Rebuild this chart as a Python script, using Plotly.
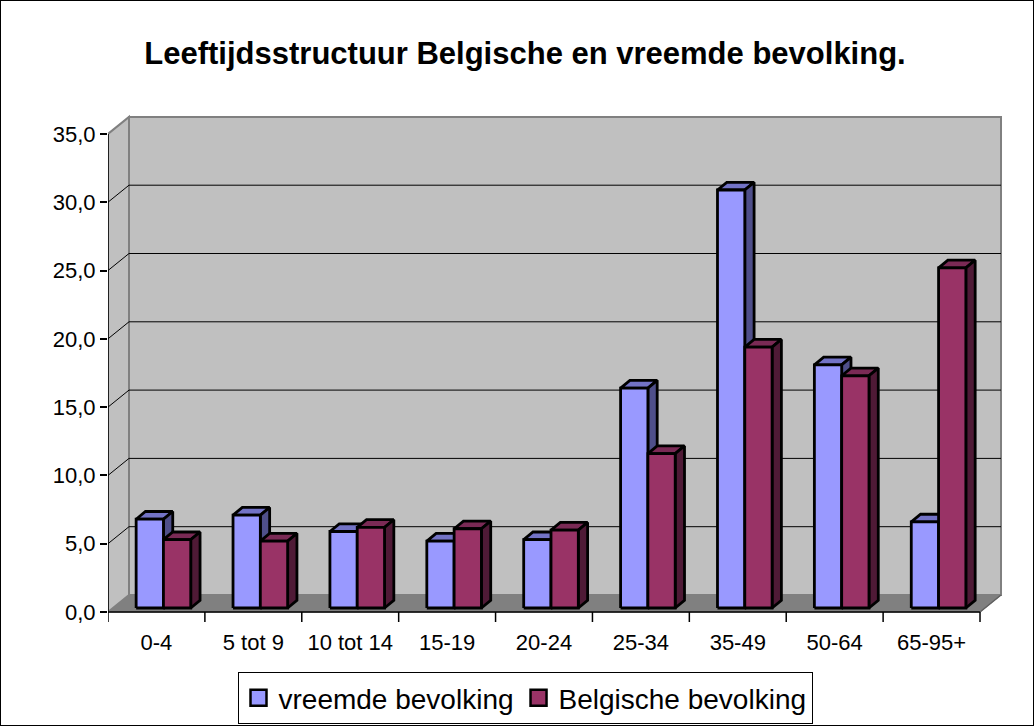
import plotly.graph_objects as go

# ---------------- data ----------------
categories = ["0-4", "5 tot 9", "10 tot 14", "15-19", "20-24", "25-34", "35-49", "50-64", "65-95+"]
vreemde = [6.5, 6.8, 5.6, 4.9, 5.0, 16.1, 30.6, 17.8, 6.3]
belgische = [5.0, 4.9, 5.9, 5.8, 5.7, 11.3, 19.1, 17.0, 24.9]
series_names = ["vreemde bevolking", "Belgische bevolking"]
y_ticks = [0, 5, 10, 15, 20, 25, 30, 35]

# ---------------- styles ----------------
FRONT = ["#9999FF", "#993366"]
TOP = ["#7373C6", "#7A2A55"]
SIDE = ["#4F4F8A", "#4F1A36"]
FONT = "Liberation Sans, Arial, sans-serif"

# ---------------- geometry (pixels -> axis units) ----------------
W, H = 1034, 726
L, R, T, B = 108, 1004, 110, 622
Y0PIX = 612
PX_X = 96.89
PX_Y = 13.66
n = len(categories)
x_range = [0, (R - L) / PX_X]
y_range = [-(B - Y0PIX) / PX_Y, (Y0PIX - T) / PX_Y]
DX, DY = 21 / PX_X, 17 / PX_Y          # wall depth offset
YMAX = y_ticks[-1]
BW = 27.3 / PX_X                        # bar width
BX, BY = 7 / PX_X, 4 / PX_Y             # bar front-plane offset
DDX, DDY = 9.3 / PX_X, 7.7 / PX_Y       # bar depth

shapes = []


def poly(pts, fill, line, width=1, layer="below"):
    d = "M " + " L ".join(f"{x},{y}" for x, y in pts) + " Z"
    shapes.append(dict(type="path", path=d, xref="x", yref="y", fillcolor=fill,
                       line=dict(color=line, width=width), layer=layer))


def seg(x0, y0, x1, y1, color, width=1, layer="below"):
    shapes.append(dict(type="line", x0=x0, y0=y0, x1=x1, y1=y1, xref="x", yref="y",
                       line=dict(color=color, width=width), layer=layer))


# floor
poly([(0, 0), (n, 0), (n + DX, DY), (DX, DY)], "#808080", "#808080")
# left wall
poly([(0, 0), (DX, DY), (DX, DY + YMAX), (0, YMAX)], "#C0C0C0", "#808080", 2)
# back wall
poly([(DX, DY), (n + DX, DY), (n + DX, DY + YMAX), (DX, DY + YMAX)], "#C0C0C0", "#808080", 2)
# gridlines
for v in y_ticks[1:-1]:
    seg(DX, DY + v, n + DX, DY + v, "#000000", 1)
    seg(0, v, DX, DY + v, "#000000", 1)
# axes
seg(0, 0, 0, YMAX, "#000000", 1.5)
seg(0, 0, n, 0, "#000000", 1.5)
seg(n, 0, n + DX, DY, "#606060", 1.5)
for i in range(n + 1):
    seg(i, 0, i, y_range[0], "#000000", 1.5)

# whole-chart frame
shapes.append(dict(type="rect", xref="paper", yref="paper",
                   x0=-L / (R - L), x1=1 + (W - R) / (R - L),
                   y0=-(H - B) / (B - T), y1=1 + T / (B - T),
                   line=dict(color="#000000", width=2), fillcolor="rgba(0,0,0,0)", layer="above"))

fig = go.Figure()

# bars as 3D prisms
for s, vals in enumerate([vreemde, belgische]):
    tops_x, tops_y, sides_x, sides_y, fr_x, fr_y = [], [], [], [], [], []
    for i, v in enumerate(vals):
        c = i + 0.5 + BX
        xl = c - BW if s == 0 else c
        xr = c if s == 0 else c + BW
        y0, y1 = BY, BY + v
        tops_x += [xl, xr, xr + DDX, xl + DDX, xl, None]
        tops_y += [y1, y1, y1 + DDY, y1 + DDY, y1, None]
        sides_x += [xr, xr + DDX, xr + DDX, xr, xr, None]
        sides_y += [y0, y0 + DDY, y1 + DDY, y1, y0, None]
        fr_x += [xl, xr, xr, xl, xl, None]
        fr_y += [y0, y0, y1, y1, y0, None]
    for xs, ys, col in [(tops_x, tops_y, TOP[s]), (sides_x, sides_y, SIDE[s]), (fr_x, fr_y, FRONT[s])]:
        fig.add_trace(go.Scatter(x=xs, y=ys, mode="lines", fill="toself", fillcolor=col,
                                 line=dict(color="#000000", width=2.8), showlegend=False,
                                 hoverinfo="skip"))

# legend entries
for s, name in enumerate(series_names):
    fig.add_trace(go.Scatter(x=[None], y=[None], mode="markers", name=name,
                             marker=dict(symbol="square", size=18, color=FRONT[s],
                                         line=dict(color="#000000", width=2.5))))

fig.update_layout(
    width=W, height=H,
    margin=dict(l=L, r=W - R, t=T, b=H - B, pad=0, autoexpand=False),
    paper_bgcolor="#FFFFFF", plot_bgcolor="rgba(0,0,0,0)",
    title=dict(text="Leeftijdsstructuur Belgische en vreemde bevolking.",
               font=dict(family=FONT, size=31, color="#000000", weight="bold"),
               x=525 / W, xanchor="center", xref="container",
               y=1 - 53 / H, yanchor="middle", yref="container"),
    xaxis=dict(range=x_range, showgrid=False, zeroline=False, showline=False,
               tickvals=[i + 0.5 for i in range(n)], ticktext=categories,
               ticks="outside", ticklen=1, tickcolor="rgba(0,0,0,0)",
               tickfont=dict(family=FONT, size=22, color="#000000"), fixedrange=True),
    yaxis=dict(range=y_range, showgrid=False, zeroline=False, showline=False,
               tickvals=y_ticks, ticktext=[f"{v:.1f}".replace(".", ",") for v in y_ticks],
               ticks="outside", ticklen=7, tickcolor="#000000", tickwidth=1.5,
               tickfont=dict(family=FONT, size=22, color="#000000"), fixedrange=True),
    legend=dict(orientation="h", x=(525 - L) / (R - L),
                xanchor="center", y=-(724 - B) / (B - T), yanchor="bottom",
                bordercolor="#000000", borderwidth=1, bgcolor="#FFFFFF",
                font=dict(family=FONT, size=28, color="#000000"),
                itemclick=False, itemdoubleclick=False),
    shapes=shapes,
    hovermode=False,
)

fig.write_html("out.html", config={"displayModeBar": False},
               post_script="document.body.style.margin='0';")
